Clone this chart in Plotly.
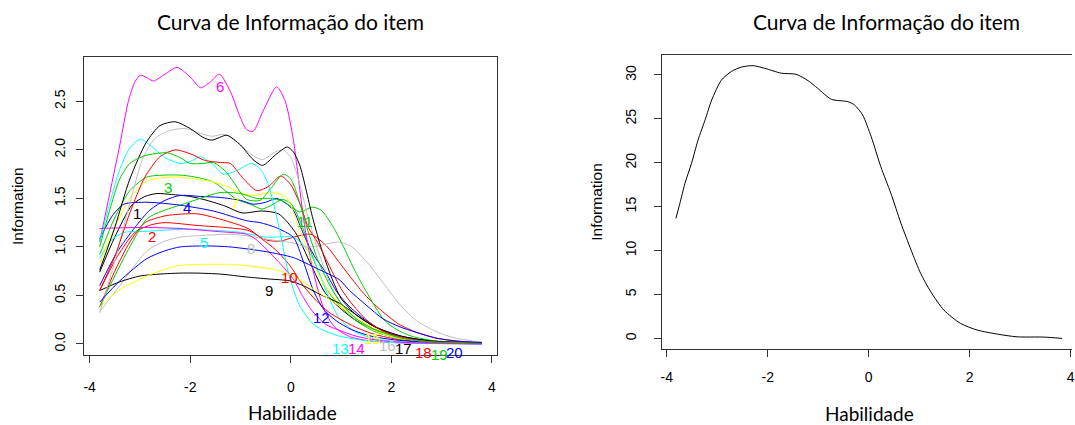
import numpy as np
import plotly.graph_objects as go

# ---------------- data: item information curves (theta, information) ----------------
item1 = [(-3.8,0.74),(-3.5,1.1),(-3.16,1.43),(-2.9,1.52),(-2.66,1.55),(-2.37,1.54),(-2.0,1.52),(-1.67,1.48),(-1.3,1.42),(-0.97,1.35),(-0.57,1.37),(-0.24,1.34),(0.09,1.15),(0.4,0.82),(0.68,0.53),(1.0,0.36),(1.3,0.24),(1.66,0.15),(2.2,0.07),(2.8,0.03),(3.8,0.01)]
item2 = [(-3.8,0.55),(-3.45,0.9),(-3.1,1.15),(-2.76,1.23),(-2.5,1.25),(-1.84,1.22),(-1.3,1.2),(-0.85,1.17),(-0.48,1.07),(-0.2,1.06),(0.05,1.1),(0.4,1.13),(0.71,1.01),(0.95,0.85),(1.17,0.7),(1.45,0.52),(1.7,0.39),(1.95,0.28),(2.16,0.2),(2.5,0.12),(2.88,0.06),(3.3,0.03),(3.8,0.01)]
item3 = [(-3.8,0.92),(-3.5,1.3),(-3.2,1.58),(-2.86,1.72),(-2.5,1.74),(-2.2,1.74),(-1.9,1.72),(-1.54,1.67),(-1.3,1.58),(-1.08,1.49),(-0.81,1.44),(-0.57,1.39),(-0.35,1.44),(-0.18,1.49),(0.0,1.45),(0.2,1.25),(0.4,0.95),(0.6,0.68),(0.8,0.5),(1.0,0.38),(1.3,0.24),(1.66,0.13),(2.2,0.05),(2.8,0.02),(3.8,0.01)]
item4 = [(-3.8,0.6),(-3.45,0.95),(-3.1,1.2),(-2.8,1.38),(-2.5,1.48),(-2.2,1.53),(-1.8,1.52),(-1.41,1.51),(-1.0,1.48),(-0.75,1.44),(-0.5,1.46),(-0.28,1.5),(-0.1,1.45),(0.05,1.38),(0.2,1.2),(0.35,1.02),(0.5,0.88),(0.68,0.75),(0.9,0.55),(1.1,0.42),(1.4,0.28),(1.75,0.16),(2.2,0.08),(2.8,0.03),(3.8,0.01)]
item5 = [(-3.8,0.88),(-3.55,1.08),(-3.3,1.15),(-2.9,1.16),(-2.2,1.18),(-1.5,1.17),(-1.0,1.15),(-0.48,1.1),(0.05,1.1),(0.25,1.02),(0.44,0.88),(0.7,0.55),(0.97,0.26),(1.3,0.12),(1.7,0.05),(2.3,0.02),(3.8,0.0)]
item6 = [(-3.8,1.05),(-3.6,1.55),(-3.4,2.05),(-3.23,2.5),(-3.1,2.7),(-2.99,2.77),(-2.85,2.74),(-2.73,2.71),(-2.5,2.78),(-2.26,2.85),(-2.0,2.75),(-1.79,2.64),(-1.6,2.7),(-1.42,2.78),(-1.2,2.6),(-1.0,2.33),(-0.88,2.21),(-0.75,2.19),(-0.55,2.4),(-0.28,2.65),(-0.11,2.5),(0.05,2.11),(0.12,1.84),(0.28,1.2),(0.45,0.74),(0.68,0.33),(0.9,0.16),(1.2,0.07),(1.6,0.03),(2.2,0.01),(3.8,0.0)]
item7 = [(-3.8,0.83),(-3.5,1.2),(-3.2,1.5),(-2.86,1.68),(-2.33,1.72),(-1.9,1.7),(-1.54,1.67),(-1.25,1.62),(-1.01,1.56),(-0.75,1.53),(-0.35,1.56),(-0.09,1.51),(0.15,1.22),(0.4,0.88),(0.68,0.6),(0.9,0.45),(1.1,0.35),(1.4,0.22),(1.75,0.12),(2.2,0.05),(2.8,0.02),(3.8,0.01)]
item8 = [(-3.8,0.33),(-3.4,0.6),(-2.86,0.96),(-2.5,1.06),(-2.2,1.1),(-1.7,1.12),(-1.21,1.13),(-0.8,1.11),(-0.48,1.08),(0.05,1.04),(0.3,1.0),(0.53,1.01),(0.95,1.05),(1.19,1.01),(1.52,0.84),(1.85,0.62),(2.18,0.4),(2.5,0.24),(2.88,0.13),(3.2,0.07),(3.5,0.04),(3.8,0.02)]
item9 = [(-3.8,0.55),(-3.4,0.64),(-3.0,0.7),(-2.6,0.72),(-2.2,0.73),(-1.87,0.73),(-1.4,0.72),(-0.88,0.69),(-0.45,0.67),(-0.02,0.65),(0.25,0.6),(0.51,0.53),(0.75,0.47),(0.97,0.42),(1.3,0.3),(1.66,0.18),(2.03,0.09),(2.5,0.04),(3.0,0.02),(3.8,0.01)]
item10 = [(-3.8,0.38),(-3.5,0.75),(-3.2,1.05),(-2.9,1.25),(-2.5,1.32),(-2.1,1.34),(-1.84,1.34),(-1.5,1.3),(-1.17,1.25),(-0.85,1.19),(-0.57,1.08),(-0.3,0.97),(-0.02,0.81),(0.25,0.6),(0.5,0.45),(0.75,0.33),(1.0,0.25),(1.3,0.17),(1.66,0.1),(2.2,0.04),(2.8,0.02),(3.8,0.01)]
item11 = [(-3.8,0.38),(-3.5,0.7),(-3.2,1.0),(-2.86,1.29),(-2.5,1.38),(-2.2,1.43),(-1.8,1.5),(-1.41,1.56),(-1.0,1.55),(-0.68,1.5),(-0.4,1.5),(-0.15,1.47),(0.18,1.36),(0.42,1.41),(0.6,1.38),(0.85,1.2),(1.05,1.0),(1.25,0.78),(1.5,0.54),(1.85,0.25),(2.1,0.15),(2.4,0.08),(2.9,0.03),(3.8,0.01)]
item12 = [(-3.8,1.08),(-3.55,1.32),(-3.32,1.44),(-2.86,1.46),(-2.2,1.43),(-1.54,1.37),(-0.88,1.27),(-0.61,1.25),(-0.3,1.2),(0.05,1.1),(0.25,0.85),(0.45,0.55),(0.65,0.36),(0.9,0.24),(1.2,0.15),(1.6,0.08),(2.1,0.04),(2.8,0.015),(3.8,0.005)]
item13 = [(-3.8,1.05),(-3.6,1.45),(-3.4,1.8),(-3.2,2.02),(-2.99,2.11),(-2.8,2.05),(-2.5,1.92),(-2.2,1.86),(-2.0,1.88),(-1.8,1.93),(-1.55,1.85),(-1.34,1.75),(-1.1,1.78),(-0.78,1.86),(-0.6,1.8),(-0.44,1.63),(-0.24,1.22),(-0.05,0.74),(0.18,0.39),(0.48,0.19),(0.9,0.09),(1.4,0.04),(2.0,0.015),(3.8,0.0)]
item14 = [(-3.8,1.19),(-3.0,1.2),(-2.2,1.19),(-1.5,1.16),(-0.88,1.13),(-0.7,1.08),(-0.55,1.01),(-0.25,0.85),(0.05,0.67),(0.25,0.48),(0.44,0.33),(0.7,0.2),(0.97,0.14),(1.3,0.08),(1.7,0.04),(2.3,0.015),(3.8,0.0)]
item15 = [(-3.8,0.38),(-3.4,0.56),(-2.86,0.7),(-2.5,0.77),(-2.2,0.81),(-1.7,0.82),(-1.21,0.82),(-0.75,0.8),(-0.35,0.77),(0.05,0.7),(0.5,0.55),(0.97,0.39),(1.3,0.27),(1.6,0.18),(2.0,0.09),(2.5,0.04),(3.0,0.02),(3.8,0.01)]
item16 = [(-3.8,0.32),(-3.5,0.85),(-3.2,1.45),(-2.95,1.9),(-2.7,2.12),(-2.4,2.2),(-2.1,2.22),(-1.8,2.17),(-1.57,2.14),(-1.3,2.16),(-1.0,2.05),(-0.75,1.94),(-0.56,1.9),(-0.3,1.98),(-0.15,2.0),(0.0,1.92),(0.15,1.7),(0.35,1.3),(0.55,0.95),(0.8,0.6),(1.0,0.42),(1.3,0.26),(1.66,0.15),(2.2,0.06),(2.8,0.02),(3.8,0.01)]
item17 = [(-3.8,0.76),(-3.5,1.2),(-3.2,1.7),(-2.87,2.08),(-2.6,2.25),(-2.3,2.29),(-2.0,2.22),(-1.75,2.13),(-1.57,2.1),(-1.27,2.15),(-1.0,2.05),(-0.75,1.9),(-0.56,1.84),(-0.3,1.95),(-0.07,2.03),(0.05,1.98),(0.18,1.84),(0.44,1.29),(0.61,0.98),(0.8,0.7),(1.0,0.47),(1.3,0.3),(1.66,0.18),(2.2,0.08),(2.8,0.03),(3.8,0.01)]
item18 = [(-3.8,0.55),(-3.5,0.9),(-3.2,1.35),(-2.9,1.72),(-2.6,1.93),(-2.3,2.0),(-2.0,1.96),(-1.7,1.89),(-1.4,1.87),(-1.2,1.86),(-0.97,1.72),(-0.68,1.58),(-0.45,1.62),(-0.2,1.73),(0.0,1.64),(0.2,1.42),(0.35,1.2),(0.53,1.05),(0.8,0.77),(1.0,0.57),(1.19,0.43),(1.5,0.25),(1.8,0.14),(2.2,0.07),(2.8,0.02),(3.8,0.01)]
item19 = [(-3.8,1.0),(-3.6,1.38),(-3.4,1.7),(-3.2,1.86),(-2.9,1.94),(-2.46,1.97),(-2.2,1.92),(-2.0,1.86),(-1.75,1.86),(-1.54,1.87),(-1.3,1.78),(-1.14,1.67),(-0.88,1.49),(-0.61,1.48),(-0.4,1.6),(-0.15,1.75),(0.0,1.7),(0.15,1.5),(0.35,1.15),(0.55,0.85),(0.8,0.58),(1.0,0.42),(1.3,0.26),(1.66,0.15),(2.2,0.06),(2.8,0.02),(3.8,0.01)]
item20 = [(-3.8,0.43),(-3.4,0.65),(-2.86,0.88),(-2.5,0.96),(-2.2,1.0),(-1.7,1.01),(-1.21,1.0),(-0.48,0.95),(0.05,0.89),(0.51,0.78),(0.97,0.66),(1.17,0.55),(1.5,0.4),(1.83,0.26),(2.15,0.18),(2.49,0.12),(2.9,0.06),(3.3,0.03),(3.8,0.015)]

items = [item1, item2, item3, item4, item5, item6, item7, item8, item9, item10,
         item11, item12, item13, item14, item15, item16, item17, item18, item19, item20]
item_labels = [str(i) for i in range(1, 21)]
# R default palette (recycled): black, red, green3, blue, cyan, magenta, yellow, gray
palette = ["#000000", "#FF0000", "#00CD00", "#0000FF", "#00FFFF", "#FF00FF", "#FFFF00", "#BEBEBE"]
# ability where each item number is written
label_theta = [-3.05, -2.75, -2.44, -2.06, -1.72, -1.41, -1.11, -0.79, -0.44, -0.02,
               0.28, 0.61, 0.99, 1.31, 1.62, 1.92, 2.24, 2.63, 2.95, 3.25]

# ---------------- data: test information curve ----------------
total_theta = [-3.82, -3.74, -3.64, -3.51, -3.38, -3.24, -3.11, -2.92, -2.72, -2.52, -2.29, -2.06,
               -1.73, -1.44, -1.2, -1.01, -0.74, -0.41, -0.28, -0.12, 0.05, 0.24, 0.44, 0.64,
               0.84, 1.03, 1.23, 1.49, 1.82, 2.15, 2.55, 2.94, 3.47, 3.83]
total_info = [13.67, 15.38, 17.66, 19.94, 22.6, 24.9, 27.15, 29.4, 30.4, 30.9, 31.06, 30.76,
              30.2, 30.08, 29.35, 28.48, 27.23, 26.96, 26.58, 25.44, 22.97, 19.55, 16.52, 13.1,
              10.06, 7.4, 5.31, 3.22, 1.71, 0.95, 0.49, 0.18, 0.15, 0.0]

x_ticks = [-4, -2, 0, 2, 4]
x_ticktext = ["-4", "-2", "0", "2", "4"]
y1_ticks = [0.0, 0.5, 1.0, 1.5, 2.0, 2.5]
y1_ticktext = ["0.0", "0.5", "1.0", "1.5", "2.0", "2.5"]
y2_ticks = [0, 5, 10, 15, 20, 25, 30]

title_text = "Curva de Informação do item"
x_title = "Habilidade"
y_title = "Information"

# ---------------- figure ----------------
W, H = 1075, 425
TICK_FONT = dict(family="Liberation Sans, Arial, sans-serif", size=14, color="#000000")
TITLE_FONT = dict(family="Lato, Carlito, Calibri, sans-serif", size=21, color="#000000")
XT_FONT = dict(family="Lato, Carlito, Calibri, sans-serif", size=19, color="#000000")
YT_FONT = dict(family="Liberation Sans, Arial, sans-serif", size=15.5, color="#000000")
LINE_C = "#333333"

fig = go.Figure()

for k, pts in enumerate(items):
    xs = [p[0] for p in pts]
    ys = [p[1] for p in pts]
    fig.add_trace(go.Scatter(
        x=xs, y=ys, mode="lines", xaxis="x", yaxis="y",
        line=dict(color=palette[k % 8], width=1, shape="spline", smoothing=0.7),
        showlegend=False, hoverinfo="skip"))

fig.add_trace(go.Scatter(
    x=total_theta, y=total_info, mode="lines", xaxis="x2", yaxis="y2",
    line=dict(color="#000000", width=1, shape="spline", smoothing=0.7),
    showlegend=False, hoverinfo="skip"))

annotations = []
for k, pts in enumerate(items):
    xs = [p[0] for p in pts]
    ys = [p[1] for p in pts]
    th = label_theta[k]
    annotations.append(dict(
        x=th, y=float(np.interp(th, xs, ys)), xref="x", yref="y",
        text=item_labels[k], showarrow=False, yshift=-12,
        xanchor="center", yanchor="middle",
        font=dict(family="Liberation Sans, Arial, sans-serif", size=15, color=palette[k % 8])))


def px(xp, yp):
    return xp / W, 1 - yp / H


for cx, cy, txt, font, ang in [
    (291, 22, title_text, TITLE_FONT, 0),
    (889, 22, title_text, TITLE_FONT, 0),
    (293, 412, x_title, XT_FONT, 0),
    (872, 413, x_title, XT_FONT, 0),
    (17, 206, y_title, YT_FONT, -90),
    (597, 202, y_title, YT_FONT, -90),
]:
    x0, y0 = px(cx, cy)
    annotations.append(dict(x=x0, y=y0, xref="paper", yref="paper", text=txt, showarrow=False,
                            xanchor="center", yanchor="middle", textangle=ang, font=font))

common = dict(showgrid=False, zeroline=False, showline=True, linecolor=LINE_C, linewidth=1,
              ticks="outside", ticklen=7, tickcolor=LINE_C, tickfont=TICK_FONT,
              ticklabeloverflow="allow")

fig.update_layout(
    width=W, height=H,
    margin=dict(l=0, r=0, t=0, b=0),
    paper_bgcolor="white", plot_bgcolor="white",
    xaxis=dict(domain=[83.7 / W, 498 / W], range=[-4.104, 4.104], tickvals=x_ticks,
               ticktext=x_ticktext, anchor="y", mirror=True, ticklabelstandoff=12, **common),
    yaxis=dict(domain=[70 / H, 368.3 / H], range=[-0.114, 2.96], tickvals=y1_ticks,
               ticktext=y1_ticktext, tickangle=-90,
               anchor="x", mirror=True, ticklabelstandoff=6, **common),
    xaxis2=dict(domain=[663 / W, 1.0], range=[-4.104, 4.028], tickvals=x_ticks,
                ticktext=x_ticktext, anchor="y2", mirror=True, ticklabelstandoff=8, **common),
    yaxis2=dict(domain=[75.7 / H, 369.7 / H], range=[-1.24, 32.24], tickvals=y2_ticks,
                tickangle=-90, anchor="x2", mirror=False, ticklabelstandoff=12, **common),
    annotations=annotations,
    showlegend=False,
)

fig.write_html("out.html",
               config={"displayModeBar": False},
               post_script="document.body.style.margin='0';document.body.style.overflow='hidden';")
